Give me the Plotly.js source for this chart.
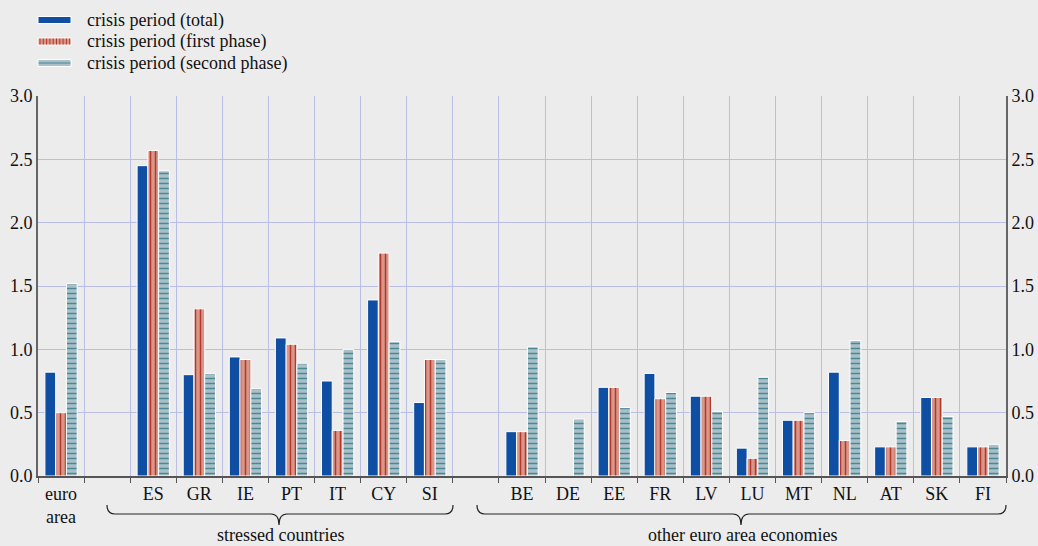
<!DOCTYPE html>
<html>
<head>
<meta charset="utf-8">
<script src="https://cdn.plot.ly/plotly-3.0.1.min.js"></script>
<style>html,body{margin:0;padding:0;background:#ececec;}#chart{width:1038px;height:546px;}</style>
</head>
<body>
<div id="chart"></div>
<script>
// ---- data ----
var categories = ["EA", "gap1", "ES", "GR", "IE", "PT", "IT", "CY", "SI", "gap2",
  "BE", "DE", "EE", "FR", "LV", "LU", "MT", "NL", "AT", "SK", "FI"];
var tickLabels = ["euro<br>area", "", "ES", "GR", "IE", "PT", "IT", "CY", "SI", "",
  "BE", "DE", "EE", "FR", "LV", "LU", "MT", "NL", "AT", "SK", "FI"];
var totalPeriod = [0.82, null, 2.45, 0.80, 0.94, 1.09, 0.75, 1.39, 0.58, null,
  0.35, null, 0.70, 0.81, 0.63, 0.22, 0.44, 0.82, 0.23, 0.62, 0.23];
var firstPhase = [0.50, null, 2.57, 1.32, 0.92, 1.04, 0.36, 1.76, 0.92, null,
  0.35, null, 0.70, 0.61, 0.63, 0.14, 0.44, 0.28, 0.23, 0.62, 0.23];
var secondPhase = [1.52, null, 2.41, 0.81, 0.69, 0.89, 1.00, 1.06, 0.92, null,
  1.02, 0.45, 0.54, 0.66, 0.51, 0.78, 0.50, 1.07, 0.43, 0.47, 0.25];
var seriesNames = ["crisis period (total)", "crisis period (first phase)", "crisis period (second phase)"];
var groupLabels = ["stressed countries", "other euro area economies"];
var yTicks = [0, 0.5, 1, 1.5, 2, 2.5, 3];

// ---- layout constants ----
var W = 1038, H = 546, mL = 38, mR = 32, mT = 96, mB = 70;
var pw = W - mL - mR, ph = H - mT - mB;
function px2x(p) { return (p - mL) / pw; }
function px2y(p) { return (H - mB - p) / ph; }

var font = "Liberation Serif";
var fs = 18;
var gridCol = "#b9bfe4";
var cBlue = "#0f4fa3", cRedBg = "#d9978a", cRedFg = "#b3382b", cGrayBg = "#a9c0c9", cGrayFg = "#4b8795";

var traces = [
  {type: "bar", name: seriesNames[0], x: categories, y: totalPeriod, showlegend: false,
   marker: {color: cBlue, line: {color: "#ffffff", width: 1}}},
  {type: "bar", name: seriesNames[1], x: categories, y: firstPhase, showlegend: false,
   marker: {color: cRedBg, line: {color: "#ffffff", width: 1},
     pattern: {shape: "|", bgcolor: cRedBg, fgcolor: cRedFg, size: 5, solidity: 0.3, fillmode: "replace"}}},
  {type: "bar", name: seriesNames[2], x: categories, y: secondPhase, showlegend: false,
   marker: {color: cGrayBg, line: {color: "#ffffff", width: 1},
     pattern: {shape: "-", bgcolor: cGrayBg, fgcolor: cGrayFg, size: 5, solidity: 0.3, fillmode: "replace"}}},
  {type: "scatter", mode: "none", x: categories, y: secondPhase, yaxis: "y2",
   showlegend: false, hoverinfo: "skip"}
];

function brace(x0p, x1p, xcp) {
  var x0 = px2x(x0p), x1 = px2x(x1p), xc = px2x(xcp);
  var yTop = px2y(505), yMid = px2y(514), yBot = px2y(525);
  var d = 8 / pw;
  return "M" + x0 + "," + yTop +
    " Q" + x0 + "," + yMid + " " + (x0 + d) + "," + yMid +
    " L" + (xc - d) + "," + yMid +
    " Q" + xc + "," + yMid + " " + xc + "," + yBot +
    " Q" + xc + "," + yMid + " " + (xc + d) + "," + yMid +
    " L" + (x1 - d) + "," + yMid +
    " Q" + x1 + "," + yMid + " " + x1 + "," + yTop;
}

// ---- custom legend (swatches + text) ----
var shapes = [
  {type: "path", xref: "paper", yref: "paper", path: brace(107, 453, 279), line: {color: "#222222", width: 1.2}},
  {type: "path", xref: "paper", yref: "paper", path: brace(477, 1006, 741), line: {color: "#222222", width: 1.2}}
];
var annotations = [
  {xref: "paper", yref: "paper", x: px2x(280), y: px2y(535), text: groupLabels[0],
   showarrow: false, xanchor: "center", yanchor: "middle", font: {family: font, size: fs, color: "#111"}},
  {xref: "paper", yref: "paper", x: px2x(742), y: px2y(535), text: groupLabels[1],
   showarrow: false, xanchor: "center", yanchor: "middle", font: {family: font, size: fs, color: "#111"}}
];
var legRows = [20, 41.5, 63];
function rectPx(x0, y0, x1, y1, fill, lineCol, lw) {
  return {type: "rect", xref: "paper", yref: "paper", x0: px2x(x0), x1: px2x(x1), y0: px2y(y0), y1: px2y(y1),
    fillcolor: fill, line: {color: lineCol, width: lw}};
}
function linePx(x0, y0, x1, y1, col, lw) {
  return {type: "line", xref: "paper", yref: "paper", x0: px2x(x0), x1: px2x(x1), y0: px2y(y0), y1: px2y(y1),
    line: {color: col, width: lw}};
}
shapes.push(rectPx(38, legRows[0] - 3.5, 71, legRows[0] + 3.5, cBlue, "#ffffff", 1));
shapes.push(rectPx(38, legRows[1] - 3.5, 71, legRows[1] + 3.5, cRedBg, "#ffffff", 1));
for (var xi = 40; xi < 71; xi += 3.3) shapes.push(linePx(xi, legRows[1] - 3, xi, legRows[1] + 3, cRedFg, 1));
shapes.push(rectPx(38, legRows[2] - 3.5, 71, legRows[2] + 3.5, cGrayBg, "#ffffff", 1));
shapes.push(linePx(38.5, legRows[2], 70.5, legRows[2], cGrayFg, 1.2));
for (var k = 0; k < 3; k++) {
  annotations.push({xref: "paper", yref: "paper", x: px2x(85), y: px2y(legRows[k]), text: seriesNames[k],
    showarrow: false, xanchor: "left", yanchor: "middle", font: {family: font, size: fs, color: "#111"}});
}

var layout = {
  width: W, height: H,
  margin: {l: mL, r: mR, t: mT, b: mB, pad: 0, autoexpand: false},
  paper_bgcolor: "#ececec", plot_bgcolor: "#ececec",
  font: {family: font, size: fs, color: "#111111"},
  barmode: "group", bargap: 0.3, bargroupgap: 0,
  showlegend: false,
  xaxis: {type: "category", categoryorder: "array", categoryarray: categories,
    tickmode: "array", tickvals: categories, ticktext: tickLabels,
    tickson: "boundaries", showgrid: true, gridcolor: gridCol, gridwidth: 1,
    showline: true, linecolor: "#555555", linewidth: 2,
    ticks: "outside", ticklen: 5, tickcolor: "#555555", tickwidth: 1,
    tickfont: {family: font, size: fs, color: "#111"}, fixedrange: true, automargin: false},
  yaxis: {range: [0, 3], tickvals: yTicks, tickformat: ".1f", showgrid: true,
    gridcolor: gridCol, gridwidth: 1, zeroline: false,
    showline: true, linecolor: "#666666", linewidth: 2, ticks: "",
    tickfont: {family: font, size: fs, color: "#111"}, fixedrange: true, automargin: false},
  yaxis2: {overlaying: "y", side: "right", range: [0, 3], tickvals: yTicks, tickformat: ".1f",
    showgrid: false, zeroline: false, showline: true, linecolor: "#666666", linewidth: 2,
    ticks: "", tickfont: {family: font, size: fs, color: "#111"}, fixedrange: true, automargin: false},
  shapes: shapes,
  annotations: annotations
};

Plotly.newPlot("chart", traces, layout, {displayModeBar: false, staticPlot: true});
</script>
</body>
</html>
